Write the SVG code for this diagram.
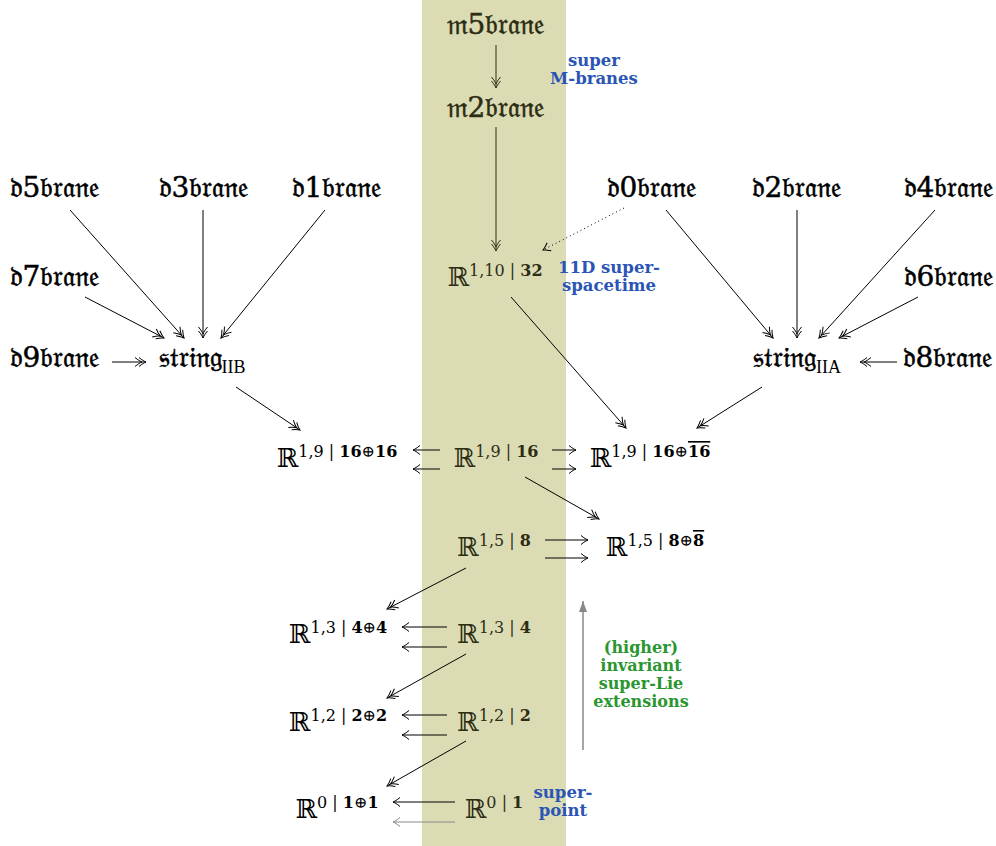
<svg xmlns="http://www.w3.org/2000/svg" width="996" height="846" viewBox="0 0 996 846">
<style>
.fr{font-family:"DejaVu Serif","DejaVu Sans","Noto Sans",serif;font-size:28px;fill:#000;stroke:#000;stroke-width:0.5;text-anchor:middle}
.rr{font-family:"DejaVu Serif","Liberation Serif",serif;font-size:26px;fill:#000;text-anchor:middle}
.sup{font-size:16px}
.b{font-weight:bold}
.op{font-weight:normal}
.sub{font-family:"Liberation Serif",serif;font-size:18px;stroke:none}
.in{fill:#2d2d14;stroke:#2d2d14}
.rr.in{stroke:none}
.bl{font-family:"DejaVu Serif",serif;font-weight:bold;font-size:16.5px;fill:#2a55b5;text-anchor:middle}
.gr{font-family:"DejaVu Serif",serif;font-weight:bold;font-size:16px;fill:#2a9630;text-anchor:middle}
.a{fill:none;stroke:#000;stroke-width:1}
.ai{fill:none;stroke:#2d2d14;stroke-width:1}
.s1{marker-end:url(#h1)}
.s2{marker-end:url(#h2)}
</style>
<defs>
<marker id="h1" viewBox="-10 -6 12 12" refX="0" refY="0" markerWidth="12" markerHeight="12" markerUnits="userSpaceOnUse" orient="auto">
<path d="M-7,-4.5 C-4,-2 -1.5,-0.6 0,0 C-1.5,0.6 -4,2 -7,4.5" fill="none" stroke="context-stroke" stroke-width="1"/>
</marker>
<marker id="h2" viewBox="-14 -6 16 12" refX="0" refY="0" markerWidth="16" markerHeight="12" markerUnits="userSpaceOnUse" orient="auto">
<path d="M-7,-4.5 C-4,-2 -1.5,-0.6 0,0 C-1.5,0.6 -4,2 -7,4.5 M-11,-4.5 C-8,-2 -5.5,-0.6 -4,0 C-5.5,0.6 -8,2 -11,4.5" fill="none" stroke="context-stroke" stroke-width="1"/>
</marker>
<marker id="tri" viewBox="-12 -6 14 12" refX="0" refY="0" markerWidth="14" markerHeight="12" markerUnits="userSpaceOnUse" orient="auto">
<path d="M0,0 L-11,-4 L-11,4 Z" fill="#888"/>
</marker>
</defs>
<rect x="422" y="0" width="144" height="846" fill="#dcdcb4"/>

<g id="connectors">
<line class="ai s2" x1="496" y1="45" x2="496" y2="88"/>
<line class="ai s2" x1="496" y1="127" x2="496" y2="251"/>
<line class="a s1" x1="624" y1="208" x2="543" y2="250" stroke-dasharray="1,3"/>
<line class="a s2" x1="70" y1="210" x2="184" y2="338"/>
<line class="a s2" x1="203" y1="210" x2="203" y2="338"/>
<line class="a s2" x1="325" y1="210" x2="221" y2="338"/>
<line class="a s2" x1="85" y1="297" x2="164" y2="338"/>
<line class="a s2" x1="112" y1="362" x2="146" y2="362"/>
<line class="a s2" x1="666" y1="210" x2="773" y2="338"/>
<line class="a s2" x1="797" y1="210" x2="797" y2="338"/>
<line class="a s2" x1="935" y1="210" x2="819" y2="338"/>
<line class="a s2" x1="918" y1="297" x2="839" y2="338"/>
<line class="a s2" x1="897" y1="362" x2="860" y2="362"/>
<line class="a s2" x1="236" y1="387" x2="300" y2="430"/>
<line class="a s2" x1="511" y1="297" x2="626" y2="428"/>
<line class="a s2" x1="762" y1="387" x2="697" y2="428"/>
<line class="a s1" x1="440" y1="450" x2="413" y2="450"/>
<line class="a s1" x1="440" y1="469" x2="413" y2="469"/>
<line class="a s1" x1="552" y1="450" x2="576" y2="450"/>
<line class="a s1" x1="552" y1="469" x2="576" y2="469"/>
<line class="a s2" x1="525" y1="477" x2="599" y2="519"/>
<line class="a s1" x1="545" y1="540" x2="588" y2="540"/>
<line class="a s1" x1="545" y1="558" x2="588" y2="558"/>
<line class="a s2" x1="466" y1="568" x2="387" y2="609"/>
<line class="a s1" x1="447" y1="627" x2="402" y2="627"/>
<line class="a s1" x1="447" y1="647" x2="402" y2="647"/>
<line class="a s2" x1="466" y1="654" x2="387" y2="698"/>
<line class="a s1" x1="447" y1="715" x2="402" y2="715"/>
<line class="a s1" x1="447" y1="735" x2="402" y2="735"/>
<line class="a s2" x1="466" y1="741" x2="387" y2="786"/>
<line class="a s1" x1="455" y1="802" x2="393" y2="802"/>
<line class="s1" x1="455" y1="822" x2="393" y2="822" stroke="#888" fill="none"/>
<line x1="583" y1="750" x2="583" y2="601" stroke="#888" stroke-width="1.5" marker-end="url(#tri)"/>
</g>

<g id="m5brane"><text class="fr in" x="496" y="34">𝔪5𝔟𝔯𝔞𝔫𝔢</text></g>
<g id="m2brane"><text class="fr in" x="496" y="117">𝔪2𝔟𝔯𝔞𝔫𝔢</text></g>
<g id="lbl-mbranes"><text class="bl" x="594" y="66">super</text><text class="bl" x="594" y="84">M-branes</text></g>

<g id="d5brane"><text class="fr" x="55" y="197">𝔡5𝔟𝔯𝔞𝔫𝔢</text></g>
<g id="d3brane"><text class="fr" x="204" y="197">𝔡3𝔟𝔯𝔞𝔫𝔢</text></g>
<g id="d1brane"><text class="fr" x="337" y="197">𝔡1𝔟𝔯𝔞𝔫𝔢</text></g>
<g id="d7brane"><text class="fr" x="55" y="286">𝔡7𝔟𝔯𝔞𝔫𝔢</text></g>
<g id="d9brane"><text class="fr" x="55" y="367">𝔡9𝔟𝔯𝔞𝔫𝔢</text></g>
<g id="stringIIB"><text class="fr" x="202" y="367">𝔰𝔱𝔯𝔦𝔫𝔤<tspan class="sub" dy="6">IIB</tspan></text></g>

<g id="d0brane"><text class="fr" x="652" y="197">𝔡0𝔟𝔯𝔞𝔫𝔢</text></g>
<g id="d2brane"><text class="fr" x="797" y="197">𝔡2𝔟𝔯𝔞𝔫𝔢</text></g>
<g id="d4brane"><text class="fr" x="949" y="197">𝔡4𝔟𝔯𝔞𝔫𝔢</text></g>
<g id="d6brane"><text class="fr" x="949" y="286">𝔡6𝔟𝔯𝔞𝔫𝔢</text></g>
<g id="stringIIA"><text class="fr" x="797" y="367">𝔰𝔱𝔯𝔦𝔫𝔤<tspan class="sub" dy="6">IIA</tspan></text></g>
<g id="d8brane"><text class="fr" x="948" y="367">𝔡8𝔟𝔯𝔞𝔫𝔢</text></g>

<g id="R1-10"><text class="rr in" x="495" y="286">ℝ<tspan class="sup" dy="-10">1,10 | </tspan><tspan class="sup b">32</tspan></text></g>
<g id="lbl-11d"><text class="bl" x="609" y="273">11D super-</text><text class="bl" x="609" y="291">spacetime</text></g>

<g id="R1-9-l"><text class="rr" x="337" y="467">ℝ<tspan class="sup" dy="-10">1,9 | </tspan><tspan class="sup b">16</tspan><tspan class="sup op">⊕</tspan><tspan class="sup b">16</tspan></text></g>
<g id="R1-9"><text class="rr in" x="496" y="467">ℝ<tspan class="sup" dy="-10">1,9 | </tspan><tspan class="sup b">16</tspan></text></g>
<g id="R1-9-r"><text class="rr" x="650" y="467">ℝ<tspan class="sup" dy="-10">1,9 | </tspan><tspan class="sup b">16</tspan><tspan class="sup op">⊕</tspan><tspan class="sup b" text-decoration="overline">16</tspan></text></g>

<g id="R1-5"><text class="rr in" x="494" y="556">ℝ<tspan class="sup" dy="-10">1,5 | </tspan><tspan class="sup b">8</tspan></text></g>
<g id="R1-5-r"><text class="rr" x="655" y="556">ℝ<tspan class="sup" dy="-10">1,5 | </tspan><tspan class="sup b">8</tspan><tspan class="sup op">⊕</tspan><tspan class="sup b" text-decoration="overline">8</tspan></text></g>

<g id="R1-3-l"><text class="rr" x="338" y="643">ℝ<tspan class="sup" dy="-10">1,3 | </tspan><tspan class="sup b">4</tspan><tspan class="sup op">⊕</tspan><tspan class="sup b">4</tspan></text></g>
<g id="R1-3"><text class="rr in" x="494" y="643">ℝ<tspan class="sup" dy="-10">1,3 | </tspan><tspan class="sup b">4</tspan></text></g>
<g id="R1-2-l"><text class="rr" x="338" y="731">ℝ<tspan class="sup" dy="-10">1,2 | </tspan><tspan class="sup b">2</tspan><tspan class="sup op">⊕</tspan><tspan class="sup b">2</tspan></text></g>
<g id="R1-2"><text class="rr in" x="494" y="731">ℝ<tspan class="sup" dy="-10">1,2 | </tspan><tspan class="sup b">2</tspan></text></g>
<g id="R0-l"><text class="rr" x="337" y="818">ℝ<tspan class="sup" dy="-10">0 | </tspan><tspan class="sup b">1</tspan><tspan class="sup op">⊕</tspan><tspan class="sup b">1</tspan></text></g>
<g id="R0"><text class="rr in" x="494" y="818">ℝ<tspan class="sup" dy="-10">0 | </tspan><tspan class="sup b">1</tspan></text></g>

<g id="lbl-superpoint"><text class="bl" x="563" y="798">super-</text><text class="bl" x="563" y="816">point</text></g>
<g id="lbl-ext"><text class="gr" x="641" y="653">(higher)</text><text class="gr" x="641" y="671">invariant</text><text class="gr" x="641" y="689">super-Lie</text><text class="gr" x="641" y="707">extensions</text></g>
</svg>
